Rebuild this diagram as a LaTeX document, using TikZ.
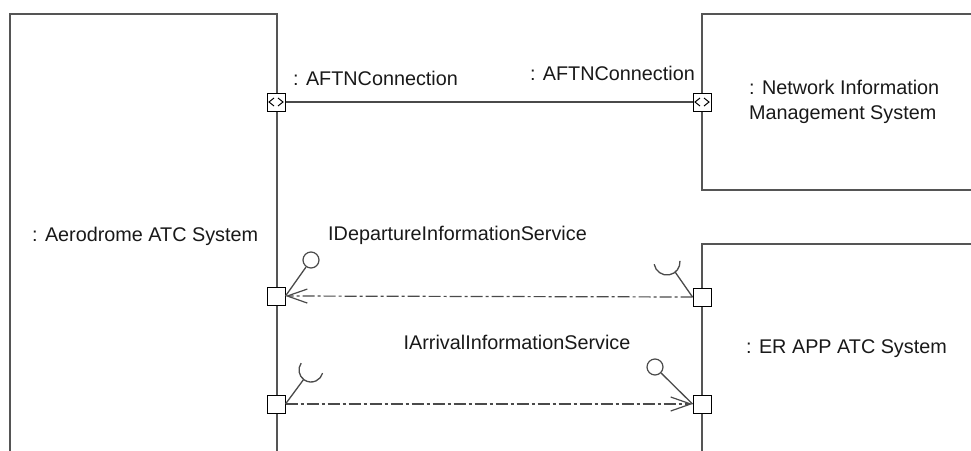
\documentclass[tikz,border=0pt]{standalone}
\usepackage{fontspec}
\setmainfont{Liberation Sans}
\usetikzlibrary{arrows.meta}
\definecolor{boxgray}{HTML}{555555}
\definecolor{wiregray}{HTML}{4A4A4A}
\begin{document}
\begin{tikzpicture}[x=1pt,y=-1pt,
  compbox/.style={draw=boxgray, line width=1.8pt, inner sep=0pt, anchor=north west},
  port/.style={draw=black, fill=white, line width=1pt, minimum size=18pt, inner sep=0pt},
  ball/.style={circle, draw=wiregray, line width=1.2pt, minimum size=16pt, inner sep=0pt},
  stem/.style={draw=wiregray, line width=1.3pt},
  wire/.style={draw=wiregray, line width=1.5pt},
  flow/.style={draw=wiregray, line width=1.2pt, dash pattern=on 12pt off 3pt on 3pt off 3pt,
    -{Straight Barb[length=20pt,width=14pt,line width=1.2pt]}},
  lbl/.style={font=\fontsize{19.8}{25}\selectfont, inner sep=0pt, text=black!90}]
\useasboundingbox (0,0) rectangle (971,450);
\clip (0,0) rectangle (971,450);

% component parts (cut off by the frame)
\node[compbox, minimum width=267pt, minimum height=500pt] (aero) at (9,13) {};
\node[compbox, minimum width=320pt, minimum height=176pt] (nims) at (701,13) {};
\node[compbox, minimum width=320pt, minimum height=300pt] (erapp) at (701,243) {};

% part names
\node[lbl, anchor=base west] (aeroname) at (32,241) {: Aerodrome ATC System};
\node[lbl, anchor=base west, align=left] (nimsname) at (749,119) {: Network Information\\Management System};
\node[lbl, anchor=base west] (erappname) at (746,353) {: ER APP ATC System};

% ports
\node[port] (aftnL) at (276,102) {};
\node[port] (aftnR) at (702,102) {};
\node[port] (depL) at (276,296) {};
\node[port] (depR) at (702,297) {};
\node[port] (arrL) at (276,404) {};
\node[port] (arrR) at (702,404) {};

% bidirectional port markers
\foreach \p in {aftnL,aftnR}{
  \draw[line width=1pt] ([shift={(-2,-4)}]\p.center) -- ++(-5,4) -- ++(5,4);
  \draw[line width=1pt] ([shift={(2,-4)}]\p.center) -- ++(5,4) -- ++(-5,4);
}

% AFTN connector
\draw[wire] (aftnL.east) -- (aftnR.west);
\node[lbl, anchor=base west] (aftnLname) at (293,85) {: AFTNConnection};
\node[lbl, anchor=base east] (aftnRname) at (695,80) {: AFTNConnection};

% departure information service
\node[ball] (depBall) at (311,260) {};
\draw[stem] (depL.east) -- (depBall);
\coordinate (depCup) at (667,262);
\draw[stem] (depR.west) -- ([shift={(51:13)}]depCup);
\draw[stem] ([shift={(170:13)}]depCup) arc[start angle=170, end angle=-5, radius=13];
\draw[flow] (depR.west) -- (depL.east);
\node[lbl, anchor=base west] (depname) at (328,240) {IDepartureInformationService};

% arrival information service
\node[ball] (arrBall) at (655,367) {};
\draw[stem] (arrR.west) -- (arrBall);
\coordinate (arrCup) at (311,370);
\draw[stem] (arrL.east) -- ([shift={(128:12)}]arrCup);
\draw[stem] ([shift={(215:12)}]arrCup) arc[start angle=215, end angle=15, radius=12];
\draw[flow] (arrL.east) -- (arrR.west);
\node[lbl, anchor=base] (arrname) at (517,349) {IArrivalInformationService};
\end{tikzpicture}
\end{document}
